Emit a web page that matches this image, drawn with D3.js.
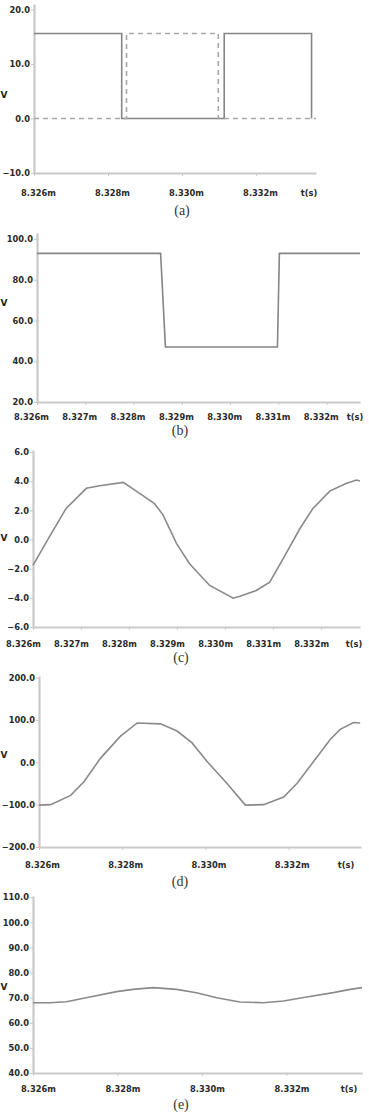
<!DOCTYPE html>
<html>
<head>
<meta charset="utf-8">
<script src="https://cdnjs.cloudflare.com/ajax/libs/d3/7.8.5/d3.min.js"></script>
<style>
  body { margin: 0; background: #fff; }
  svg { display: block; }
  .tick text { font-family: "DejaVu Sans", sans-serif; font-size: 8.3px; font-weight: bold; fill: #2a2a2a; }
</style>
</head>
<body>
<script>
// ---- data (time in ms, values in V) ----
const aSolidT = [8.326, 8.32837, 8.32837, 8.33114, 8.33114, 8.33350, 8.33350];
const aSolidV = [15.6, 15.6, 0, 0, 15.6, 15.6, 0];
const aDashT = [8.326, 8.32850, 8.32850, 8.33098, 8.33098, 8.33362];
const aDashV = [0, 0, 15.6, 15.6, 0, 0];

const bT = [8.326, 8.32856, 8.32866, 8.33098, 8.33102, 8.33269];
const bV = [93, 93, 47, 47, 93, 93];

const cT = [8.32600, 8.32628, 8.32669, 8.32711, 8.32739, 8.32788, 8.32822, 8.32853, 8.32871, 8.32899,
            8.32926, 8.32968, 8.33017, 8.33031, 8.33065, 8.33093, 8.33121, 8.33156, 8.33183, 8.33218,
            8.33253, 8.33274, 8.33281];
const cV = [-1.77, -0.16, 2.14, 3.52, 3.70, 3.93, 3.17, 2.48, 1.68, -0.28,
            -1.66, -3.15, -4.02, -3.89, -3.49, -2.92, -1.31, 0.76, 2.14, 3.33,
            3.86, 4.09, 4.02];

const dT = [8.32600, 8.32628, 8.32676, 8.32708, 8.32748, 8.32796, 8.32836, 8.32892, 8.32932, 8.32968,
            8.33004, 8.33052, 8.33096, 8.33140, 8.33188, 8.33220, 8.33260, 8.33300, 8.33324, 8.33356,
            8.33372];
const dV = [-101, -100, -78, -46, 10, 62, 93, 91, 74, 46,
            2, -50, -101, -100, -82, -50, 2, 54, 78, 94,
            93];

const eT = [8.32600, 8.32640, 8.32679, 8.32726, 8.32798, 8.32837, 8.32885, 8.32940, 8.32987, 8.33035,
            8.33090, 8.33145, 8.33193, 8.33248, 8.33311, 8.33351, 8.33379];
const eV = [68.0, 68.0, 68.4, 70.0, 72.4, 73.3, 74.0, 73.3, 72.0, 70.0,
            68.3, 68.0, 68.7, 70.3, 72.0, 73.3, 74.0];

// tick labels
const xTicks2 = [8.326, 8.328, 8.330, 8.332];
const xTicks1 = [8.326, 8.327, 8.328, 8.329, 8.330, 8.331, 8.332];
const yTicksA = [-10, 0, 10, 20];
const yTicksB = [20, 40, 60, 80, 100];
const yTicksC = [-6, -4, -2, 0, 2, 4, 6];
const yTicksD = [-200, -100, 0, 100, 200];
const yTicksE = [40, 50, 60, 70, 80, 90, 100, 110];
const captions = ["(a)", "(b)", "(c)", "(d)", "(e)"];

const zip = (t, v) => t.map((d, i) => [d, v[i]]);

const W = 369, H = 1119;
const svg = d3.select('body').append('svg')
    .attr('width', W)
    .attr('height', H);

// layout of each panel (pixels)
const panels = [
  {series: [{d: zip(aSolidT, aSolidV), color: '#858585'}, {d: zip(aDashT, aDashV), color: '#a8a8a8', dash: '5,4'}],
   xd: [8.326, 8.33362], xr: [34, 316], yd: [-10, 21], yr: [173, 4], xt: xTicks2, yt: yTicksA,
   pad: 14, ldx: 4, ts: [309], vy: 95, cap: [182, 211]},
  {series: [{d: zip(bT, bV), color: '#858585'}],
   xd: [8.326, 8.33269], xr: [37, 360], yd: [20, 103], yr: [402, 233], xt: xTicks1, yt: yTicksB,
   pad: 9, ldx: -6, ts: [355], vy: 303, cap: [180, 431]},
  {series: [{d: zip(cT, cV), color: '#8a8a8a'}],
   xd: [8.326, 8.33281], xr: [33, 360], yd: [-6, 6.15], yr: [627, 450], xt: xTicks1, yt: yTicksC,
   pad: 11, ldx: -10, ts: [354], vy: 538, cap: [181, 658]},
  {series: [{d: zip(dT, dV), color: '#8a8a8a'}],
   xd: [8.326, 8.33374], xr: [39, 361], yd: [-200, 204], yr: [847, 676], xt: xTicks2, yt: yTicksD,
   pad: 12, ldx: 3, ts: [346], vy: 755, cap: [180, 882]},
  {series: [{d: zip(eT, eV), color: '#8a8a8a'}],
   xd: [8.326, 8.33379], xr: [33, 362], yd: [40, 110.5], yr: [1073, 896], xt: xTicks2, yt: yTicksE,
   pad: 10, ldx: 5, ts: [349], vy: 987, cap: [181, 1105]}
];

panels.forEach((p, k) => {
  const x = d3.scaleLinear().domain(p.xd).range(p.xr);
  const y = d3.scaleLinear().domain(p.yd).range(p.yr);
  const g = svg.append('g');

  const yAxis = d3.axisLeft(y).tickValues(p.yt).tickFormat(d3.format('.1f'))
      .tickSizeInner(3).tickSizeOuter(0).tickPadding(1);
  const gy = g.append('g').attr('transform', `translate(${p.xr[0]},0)`).call(yAxis);

  const xAxis = d3.axisBottom(x).tickValues(p.xt).tickFormat(d => d3.format('.3f')(d) + 'm')
      .tickSizeInner(3).tickSizeOuter(0).tickPadding(p.pad);
  const gx = g.append('g').attr('transform', `translate(0,${p.yr[0]})`).call(xAxis);
  gx.selectAll('.tick text').attr('dx', p.ldx);

  [gx, gy].forEach(a => {
    a.select('.domain').attr('stroke', '#c9c9c9').attr('stroke-width', 2.2);
    a.selectAll('.tick line').attr('stroke', '#c9c9c9').attr('stroke-width', 1);
  });

  const line = d3.line().x(d => x(d[0])).y(d => y(d[1]));
  p.series.forEach(s => {
    g.append('path')
      .datum(s.d)
      .attr('d', line)
      .attr('fill', 'none')
      .attr('stroke', s.color)
      .attr('stroke-width', 1.6)
      .attr('stroke-dasharray', s.dash || null);
  });

  // axis names
  g.append('text').attr('x', p.ts[0]).attr('y', p.yr[0] + 20 - (14 - p.pad))
    .attr('text-anchor', 'middle').attr('dy', '0.35em')
    .style('font-family', '"DejaVu Sans", sans-serif').style('font-size', '8.3px')
    .style('font-weight', 'bold').style('fill', '#2a2a2a')
    .text('t(s)');
  g.append('text').attr('x', 4).attr('y', p.vy)
    .attr('text-anchor', 'middle').attr('dy', '0.35em')
    .style('font-family', '"DejaVu Sans", sans-serif').style('font-size', '9px')
    .style('font-weight', 'bold').style('fill', '#222')
    .text('V');

  g.append('text').attr('x', p.cap[0]).attr('y', p.cap[1])
    .attr('text-anchor', 'middle').attr('dy', '0.32em')
    .style('font-family', '"Liberation Serif", serif').style('font-size', '14px').style('fill', '#333')
    .text(captions[k]);
});
</script>
</body>
</html>
